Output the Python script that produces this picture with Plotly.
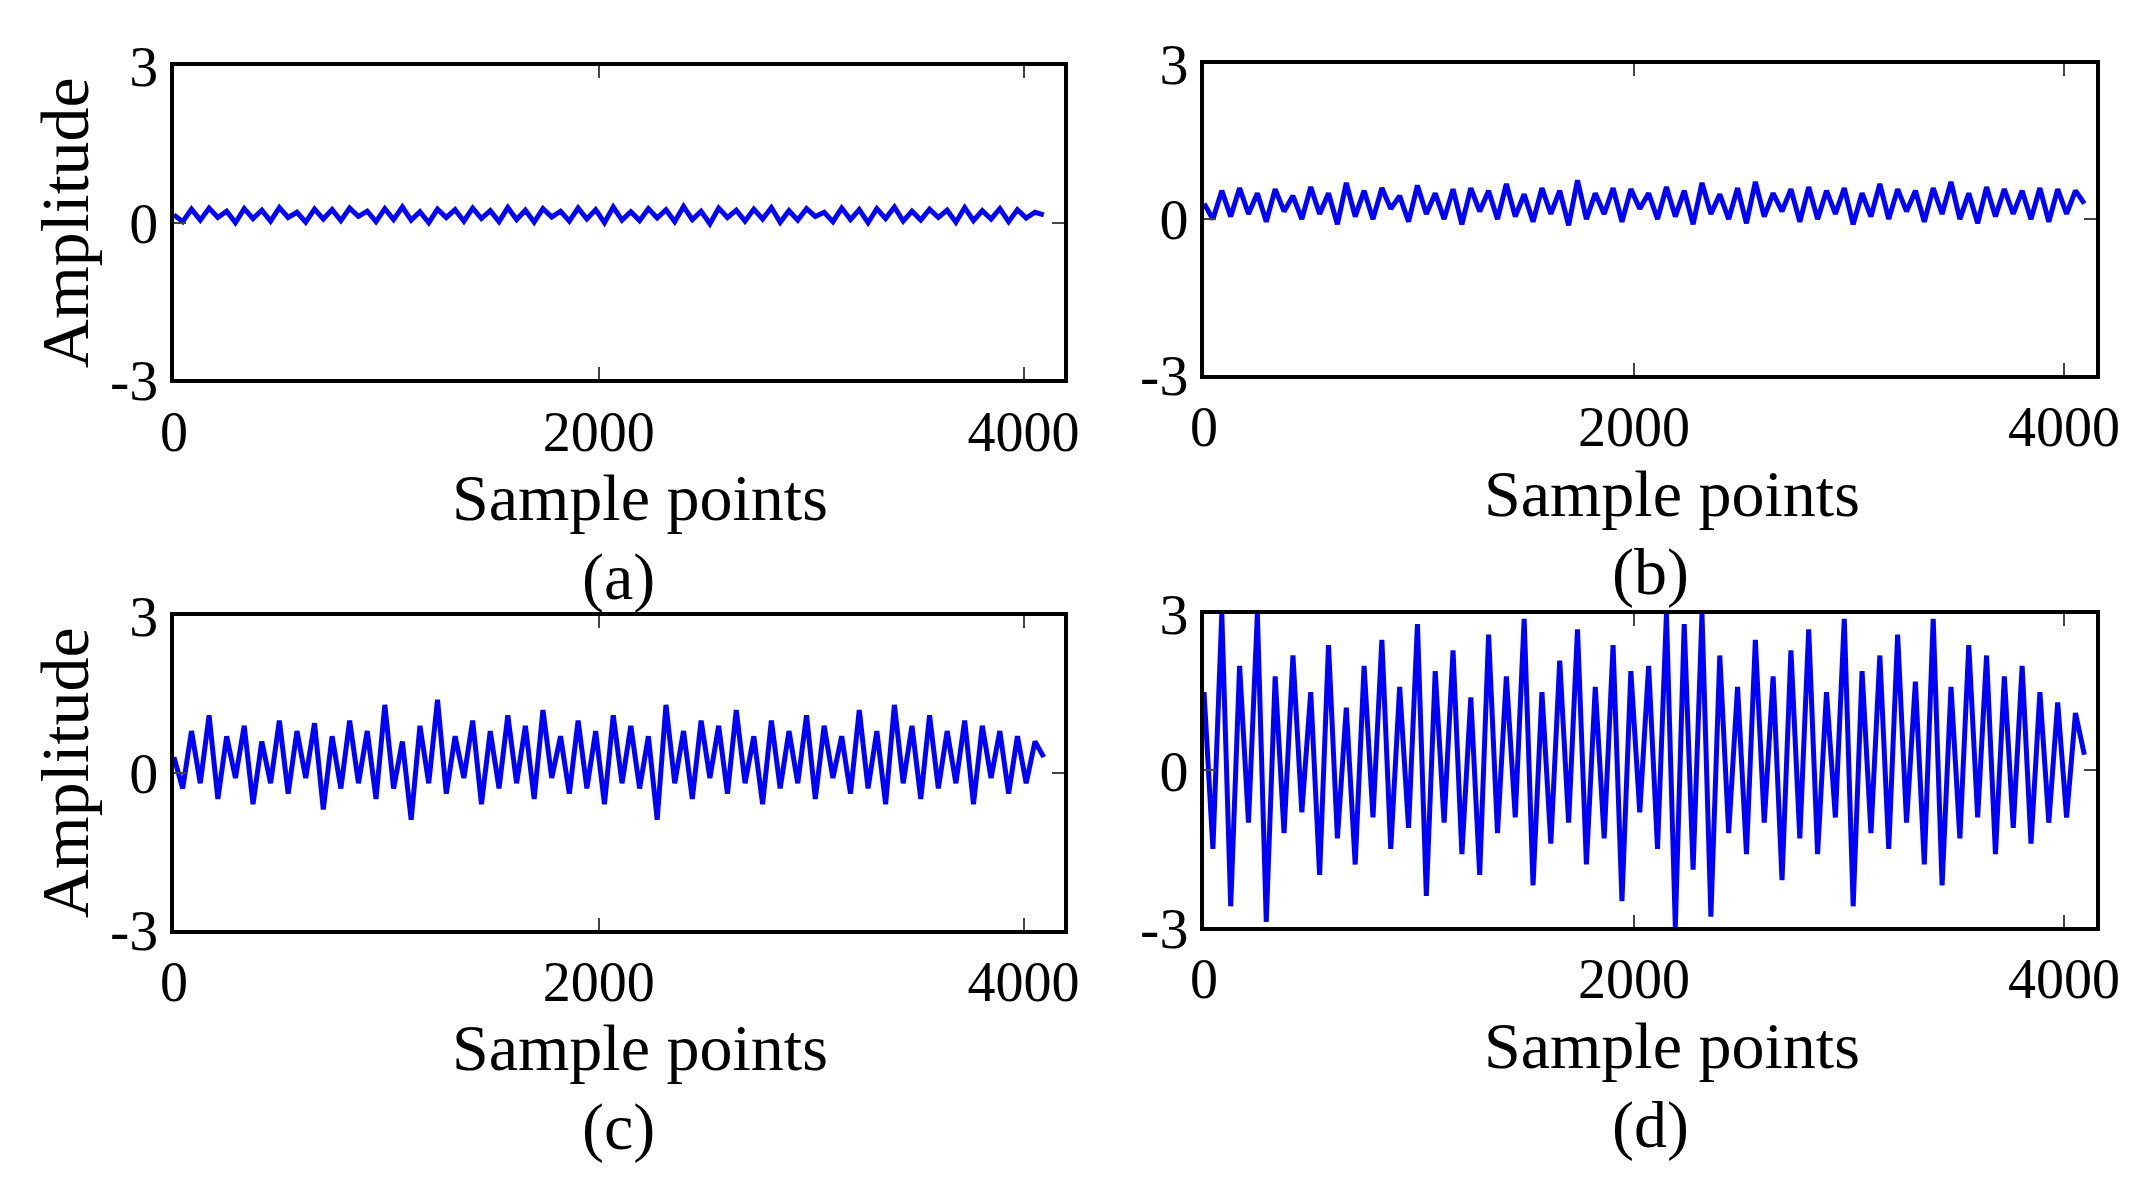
import plotly.graph_objects as go

# hand-estimated amplitude samples (coarse)
sig_a = [0.15,0.02,0.26,0.05,0.28,0.1,0.22,0.0,0.27,0.08,0.24,0.03,0.29,0.1,0.2,0.01,0.26,0.07,0.25,0.04,
         0.28,0.12,0.22,0.02,0.27,0.06,0.3,0.05,0.21,0.0,0.26,0.1,0.25,0.03,0.28,0.08,0.23,0.02,0.29,0.06,
         0.24,0.01,0.27,0.11,0.22,0.03,0.28,0.07,0.25,0.0,0.3,0.05,0.21,0.04,0.27,0.09,0.25,0.02,0.31,0.06,
         0.22,-0.02,0.28,0.1,0.24,0.03,0.26,0.07,0.29,0.01,0.23,0.05,0.27,0.12,0.2,0.02,0.28,0.06,0.25,0.0,
         0.27,0.08,0.3,0.03,0.22,0.05,0.26,0.1,0.24,0.01,0.29,0.04,0.23,0.07,0.27,0.02,0.25,0.09,0.2,0.15]
sig_b = [0.3,0.0,0.55,0.05,0.6,0.1,0.5,-0.05,0.58,0.15,0.45,0.0,0.62,0.1,0.5,-0.1,0.7,0.05,0.55,0.0,
         0.6,0.2,0.45,-0.05,0.65,0.1,0.5,0.0,0.58,-0.1,0.6,0.15,0.55,0.0,0.68,0.05,0.48,-0.05,0.6,0.1,
         0.55,-0.12,0.75,0.0,0.5,0.1,0.6,-0.05,0.58,0.2,0.5,0.0,0.62,0.05,0.55,-0.1,0.7,0.1,0.48,0.0,
         0.6,-0.08,0.72,0.05,0.5,0.15,0.58,-0.05,0.62,0.0,0.55,0.1,0.6,-0.1,0.5,0.05,0.68,0.0,0.58,0.15,
         0.55,-0.05,0.6,0.1,0.72,0.0,0.5,-0.08,0.62,0.05,0.58,0.1,0.55,0.0,0.6,-0.05,0.58,0.1,0.55,0.3]
sig_c = [0.3,-0.3,0.8,-0.2,1.1,-0.5,0.7,-0.1,0.9,-0.6,0.6,-0.2,1.0,-0.4,0.8,-0.1,0.95,-0.7,0.7,-0.3,
         1.0,-0.2,0.8,-0.5,1.3,-0.3,0.6,-0.9,0.9,-0.2,1.4,-0.4,0.7,-0.1,1.0,-0.6,0.8,-0.3,1.1,-0.2,
         0.9,-0.5,1.2,-0.1,0.7,-0.4,1.0,-0.3,0.8,-0.6,1.1,-0.2,0.9,-0.3,0.7,-0.9,1.3,-0.2,0.8,-0.5,
         1.0,-0.1,0.9,-0.4,1.2,-0.2,0.7,-0.6,1.0,-0.3,0.8,-0.2,1.1,-0.5,0.9,-0.1,0.7,-0.4,1.2,-0.3,
         0.8,-0.6,1.3,-0.2,0.9,-0.5,1.1,-0.3,0.8,-0.2,1.0,-0.6,0.9,-0.1,0.8,-0.4,0.7,-0.2,0.6,0.3]
sig_d = [1.5,-1.5,3.0,-2.6,2.0,-1.0,3.0,-2.9,1.8,-1.2,2.2,-0.8,1.5,-2.0,2.4,-1.3,1.2,-1.8,2.0,-0.9,
         2.5,-1.5,1.6,-1.1,2.8,-2.4,1.9,-1.0,2.3,-1.6,1.4,-2.0,2.6,-1.2,1.8,-0.9,2.9,-2.2,1.5,-1.4,
         2.1,-1.0,2.7,-1.8,1.6,-1.3,2.4,-2.5,1.9,-0.8,2.0,-1.5,3.0,-3.0,2.8,-1.9,3.0,-2.8,2.2,-1.2,
         1.6,-1.6,2.5,-1.0,1.8,-2.1,2.3,-1.3,2.7,-1.6,1.5,-0.9,2.9,-2.6,1.9,-1.2,2.2,-1.5,2.6,-1.0,
         1.7,-1.8,2.9,-2.2,1.6,-1.3,2.4,-0.9,2.2,-1.6,1.8,-1.1,2.0,-1.4,1.5,-1.0,1.3,-0.9,1.1,0.3]

n = 4096
yt = [-3, 0, 3]
xt = [0, 2000, 4000]
font = "Liberation Serif"

fig = go.Figure()
panels = [(sig_a, [0.077, 0.49], [0.686, 0.951], 4190, "(a)", True),
          (sig_b, [0.555, 0.969], [0.69, 0.953], 4150, "(b)", False),
          (sig_c, [0.077, 0.49], [0.221, 0.486], 4190, "(c)", True),
          (sig_d, [0.555, 0.969], [0.223, 0.488], 4150, "(d)", False)]
for i, (s, xd, yd, xmax, lab, amp) in enumerate(panels):
    k = "" if i == 0 else str(i + 1)
    xs = [j * (n - 1) / (len(s) - 1) for j in range(len(s))]
    fig.add_trace(go.Scatter(x=xs, y=s, mode="lines", line=dict(color="#0000ff", width=5),
                             xaxis="x" + k, yaxis="y" + k, showlegend=False))
    ax = dict(domain=xd, range=[0, xmax], tickvals=xt, ticks="inside", ticklen=12, tickwidth=2,
              showline=True, linewidth=4, linecolor="black", mirror="ticks", showgrid=False,
              zeroline=False, anchor="y" + k, automargin=False,
              tickfont=dict(family=font, size=56, color="black"))
    ay = dict(domain=yd, range=[-3, 3], tickvals=yt, ticktext=["-3", "0", "3"], ticks="inside",
              ticklen=12, tickwidth=2, showline=True, linewidth=4, linecolor="black", mirror="ticks",
              showgrid=False, zeroline=False, anchor="x" + k, automargin=False,
              tickfont=dict(family=font, size=58, color="black"))
    if amp:
        ay["title"] = dict(text="Amplitude", font=dict(family=font, size=68, color="black"), standoff=0)
    fig.update_layout(**{"xaxis" + k: ax, "yaxis" + k: ay})
    cx = (xd[0] + xd[1]) / 2 + 0.01
    fig.add_annotation(text="Sample points", x=cx, y=yd[0] - 0.1, xref="paper", yref="paper",
                       xanchor="center", yanchor="middle",
                       showarrow=False, font=dict(family=font, size=66, color="black"))
    fig.add_annotation(text=lab, x=cx - 0.01, y=yd[0] - 0.167, xref="paper", yref="paper",
                       xanchor="center", yanchor="middle",
                       showarrow=False, font=dict(family=font, size=66, color="black"))

fig.update_layout(width=2155, height=1183, margin=dict(l=0, r=0, t=0, b=0),
                  plot_bgcolor="white", paper_bgcolor="white")
fig.write_html("out.html")
